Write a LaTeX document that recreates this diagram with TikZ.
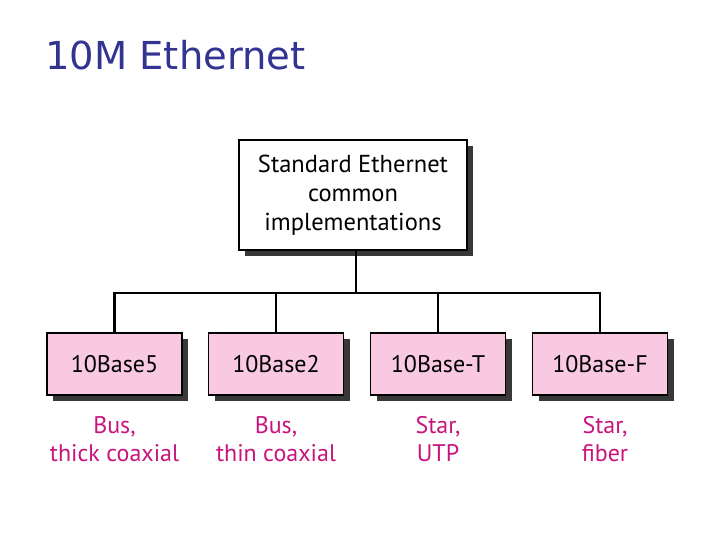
\documentclass[tikz,border=0pt]{standalone}
\usepackage{fontspec}
\usetikzlibrary{shadows}
\setmainfont{PT Sans}
\newfontfamily\titlefont{DejaVu Sans}
\definecolor{titleblue}{RGB}{51,51,145}
\definecolor{boxpink}{RGB}{249,201,226}
\definecolor{labelmag}{RGB}{200,20,125}
\begin{document}
\begin{tikzpicture}[x=1pt,y=-1pt,
  shadowbox/.style={draw=black,line width=1.8pt,minimum width=#1,inner sep=0pt,
    drop shadow={shadow xshift=6pt,shadow yshift=-6pt,fill=black!78,opacity=1}},
  conn/.style={line width=2.8pt},
  lbl/.style={text=labelmag,font=\fontsize{24}{28}\selectfont,align=center,anchor=center}]
\useasboundingbox (0,0) rectangle (720,540);
\node[anchor=base west,text=titleblue,font=\titlefont\fontsize{38.5}{40}\selectfont,inner sep=0pt] (title) at (45,70) {10M Ethernet};
\node[shadowbox=228pt,minimum height=110pt,fill=white,align=center,font=\fontsize{24.5}{29}\selectfont] (top) at (353,195) {Standard Ethernet\\common\\implementations};
\foreach \n/\x/\t in {a/114.5/10Base5,b/276/10Base2,c/438/10Base-T,d/600/10Base-F}{
  \node[shadowbox=135pt,minimum height=62pt,fill=boxpink,font=\fontsize{24}{24}\selectfont] (\n) at (\x,364) {\t};
}
\coordinate (j) at (356,293);
\draw[conn] (top.south -| j) -- (j);
\draw[conn] (a.north) |- (j) -| (d.north);
\draw[conn] (b.north) -- (b.north |- j);
\draw[conn] (c.north) -- (c.north |- j);
\node[lbl] (la) at (114.5,439) {Bus,\\thick coaxial};
\node[lbl] (lb) at (276,439) {Bus,\\thin coaxial};
\node[lbl] (lc) at (438,439) {Star,\\UTP};
\node[lbl] (ld) at (605,439) {Star,\\fiber};
\end{tikzpicture}
\end{document}
